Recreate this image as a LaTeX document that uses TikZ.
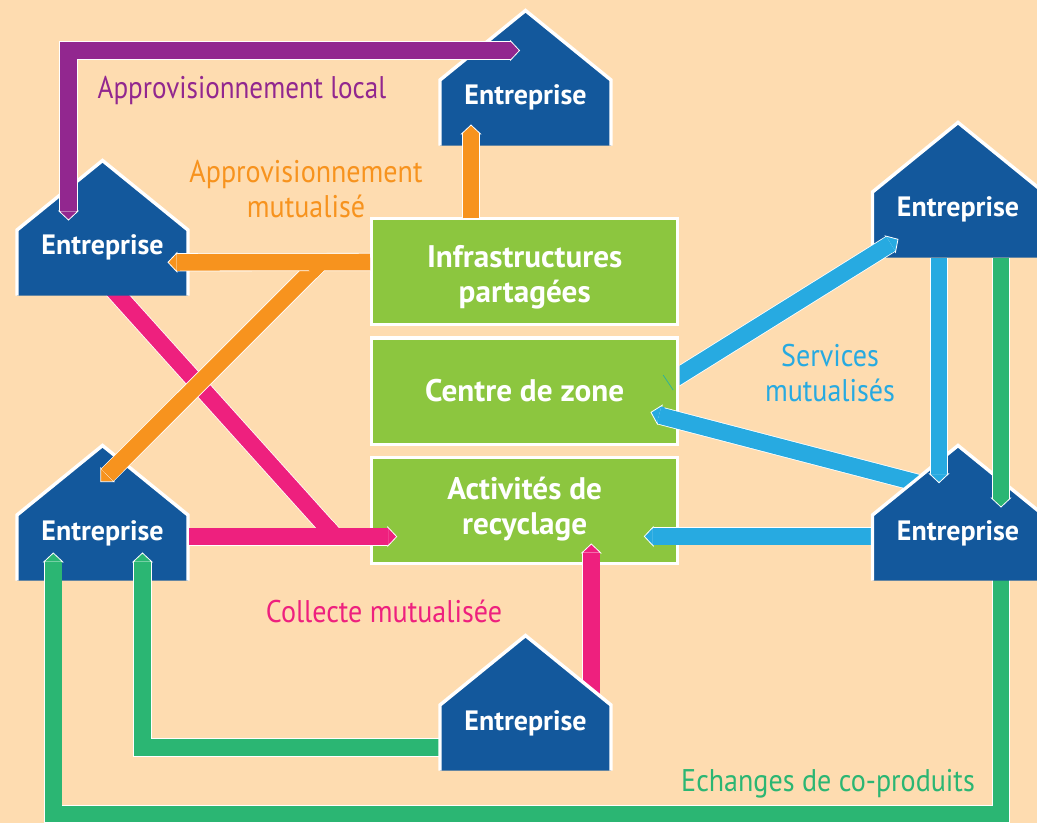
\documentclass[tikz,border=0pt]{standalone}
\usepackage{fontspec}
\setmainfont{PT Sans}
\newfontfamily\labfont[FakeStretch=0.895]{PT Sans}
\newfontfamily\purfont[FakeStretch=0.865]{PT Sans}
\usetikzlibrary{calc,backgrounds}
\definecolor{bgc}{RGB}{254,220,176}
\definecolor{hblue}{RGB}{19,88,156}
\definecolor{bgreen}{RGB}{140,198,63}
\definecolor{corange}{RGB}{247,147,30}
\definecolor{cpink}{RGB}{238,32,126}
\definecolor{cpurple}{RGB}{146,39,143}
\definecolor{csky}{RGB}{39,170,225}
\definecolor{cgreen}{RGB}{43,182,115}
\tikzset{
  zonebox/.style={draw=white,line width=2.6pt,fill=bgreen,text=white,align=center,
    minimum width=229.5pt,inner sep=0pt,font=\fontsize{23.4}{26}\selectfont\bfseries},
  firm/.style={text=white,inner sep=0pt,font=\fontsize{21}{25}\selectfont\bfseries},
  lab/.style={align=center,inner sep=0pt,font=\labfont\fontsize{23.5}{26.25}\selectfont},
  conn/.style={draw=white,line width=0.6pt,double=#1,double distance=12.4pt,line join=miter},
  core/.style={draw=#1,line width=12.4pt}
}
\newcommand{\zonetext}[2]{\smash{\raisebox{#1}{\begin{tabular}{@{}c@{}}#2\end{tabular}}}}
\newcommand{\firmhouse}[3]{%
  \node[firm] (#1) at (#2,#3) {\smash{\raisebox{-7.5pt}{Entreprise}}};
  \begin{pgfonlayer}{houselayer}
  \fill[hblue] ($(#1)+(-85.5,50.7)$) -- ($(#1)+(-85.5,-15)$) -- ($(#1)+(0,-84.5)$) -- ($(#1)+(85.5,-15)$) -- ($(#1)+(85.5,50.7)$) -- cycle;
  \draw[white,line width=2.6pt,line join=miter] ($(#1)+(-85.5,50.7)$) -- ($(#1)+(-85.5,-15)$) -- ($(#1)+(0,-84.5)$) -- ($(#1)+(85.5,-15)$) -- ($(#1)+(85.5,50.7)$);
  \end{pgfonlayer}}
\newcommand{\headtip}[3]{%
  \begin{scope}[shift={#2},rotate=#3]
  \filldraw[draw=white,line width=0.6pt,line join=miter,fill=#1] (-9,-9.6) -- (0,0) -- (-9,9.6) -- cycle;
  \fill[#1] (-12,-8.27) rectangle (-8.5,8.27);
  \end{scope}}
\pgfdeclarelayer{background}
\pgfdeclarelayer{houselayer}
\pgfsetlayers{background,houselayer,main}
\begin{document}
\begin{tikzpicture}[x=0.75pt,y=-0.75pt]
\useasboundingbox (0,0) rectangle (1037,823);
\clip (0,0) rectangle (1037,823);
\begin{pgfonlayer}{background}
\fill[bgc] (0,0) rectangle (1037,823);
\end{pgfonlayer}
% houses
\firmhouse{hT}{525.5}{95}
\firmhouse{hNW}{102.5}{245}
\firmhouse{hSW}{102.5}{530}
\firmhouse{hNE}{958}{207}
\firmhouse{hSE}{958}{530}
\firmhouse{hB}{525.5}{720}
% boxes
\begin{pgfonlayer}{houselayer}
\node[zonebox,minimum height=79.5pt] (bI) at (524.7,271.5) {\zonetext{-11pt}{Infrastructures\\partagées}};
\node[zonebox,minimum height=80pt] (bC) at (524.7,391.1) {\zonetext{-9pt}{Centre de zone}};
\node[zonebox,minimum height=79.5pt] (bA) at (524.7,510.6) {\zonetext{-5.7pt}{Activités de\\recyclage}};
\end{pgfonlayer}
% connectors behind boxes and houses
\begin{pgfonlayer}{background}
\draw[conn=cpink] ($(hNW)+(10,44)$) -- ($(bA)+(-189.5,26)$);
\draw[conn=cpink] ($(hB)+(65.8,-15)$) -- ($(bA)+(66.6,42.4)$);
\draw[conn=csky] ($(hSE)+(-80,6.4)$) -- ($(bA)+(128.8,25.8)$);
\draw[conn=cgreen] ($(hB)+(-80,27.5)$) -| ($(hSW)+(40,32)$);
\draw[conn=cgreen] ($(hSE)+(43,45)$) |- ($(hB)+(-100,94)$) -| ($(hSW)+(-49.2,32)$);
\end{pgfonlayer}
% slanted sky connectors, cut at the edge of the box or house they leave
\begin{scope}
\clip ($(bC)+(154.8,-250)$) rectangle ($(bC)+(420,20)$);
\draw[conn=csky] ($(bC)+(137,-4.4)$) -- ($(hNE)+(-67.6,37)$);
\end{scope}
\headtip{csky}{($(hNE)+(-60,32.3)$)}{32}
\begin{scope}
\clip ($(hSE)+(-125.5,15.5)$) -- ($(hSE)+(0,-86.7)$) -- ($(hSE)+(-100,-200)$) -- ($(bC)+(0,-60)$) -- ($(bC)+(0,100)$) -- cycle;
\draw[conn=csky] ($(hSE)+(-40,-47)$) -- ($(bC)+(135,24.5)$);
\end{scope}
\headtip{csky}{($(bC)+(126.3,21.2)$)}{165.3}
\draw[conn=csky] ($(bA)+(170,25.8)$) -- ($(bA)+(128.6,25.8)$);
\headtip{csky}{($(bA)+(119.6,25.8)$)}{180}
\draw[conn=cpink] ($(bA)+(66.6,70)$) -- ($(bA)+(66.6,42.4)$);
\headtip{cpink}{($(bA)+(66.6,33.4)$)}{90}
\draw[conn=cgreen] ($(hSW)+(-49.2,70)$) -- ($(hSW)+(-49.2,32)$);
\headtip{cgreen}{($(hSW)+(-49.2,23)$)}{90}
\draw[conn=cgreen] ($(hSW)+(40,70)$) -- ($(hSW)+(40,32)$);
\headtip{cgreen}{($(hSW)+(40,23)$)}{90}
% connectors over the houses
\draw[conn=cpurple] ($(hNW)+(-34,-34)$) |- ($(hT)+(-15,-44.5)$);
\headtip{cpurple}{($(hNW)+(-34,-25)$)}{-90}
\headtip{cpurple}{($(hT)+(-6,-44.5)$)}{0}
\draw[conn=corange] ($(bI)+(-53.7,-53)$) -- ($(hT)+(-54.5,39)$);
\headtip{corange}{($(hT)+(-54.5,30)$)}{90}
\draw[conn=corange] ($(bI)+(-204.2,-9.5)$) -- ($(hSW)+(4.9,-55)$);
\filldraw[draw=white,line width=0.6pt,fill=corange] ($(hSW)+(-1.8,-62)$) -- ($(hSW)+(-1.8,-48.3)$) -- ($(hSW)+(11.5,-48.3)$) -- cycle;
\draw[core=corange] ($(hSW)+(15,-65)$) -- ($(hSW)+(4.9,-55)$);
\draw[conn=corange] ($(bI)+(-154.7,-9.5)$) -- ($(hNW)+(74.5,17.3)$);
\headtip{corange}{($(hNW)+(65.5,17.3)$)}{180}
\draw[core=corange] ($(bI)+(-214,0.5)$) -- ($(bI)+(-204.2,-9.5)$);
\draw[conn=cpink] ($(hSW)+(86.5,6.6)$) -- ($(bA)+(-137,26)$);
\headtip{cpink}{($(bA)+(-128,26)$)}{0}
\draw[core=cpink] ($(bA)+(-198.5,16)$) -- ($(bA)+(-189.5,26)$);
\draw[conn=csky] ($(hNE)+(-19,50.7)$) -- ($(hSE)+(-19,-56.3)$);
\headtip{csky}{($(hSE)+(-19,-47.3)$)}{-90}
\draw[conn=cgreen] ($(hNE)+(43,50.7)$) -- ($(hSE)+(43,-32)$);
\headtip{cgreen}{($(hSE)+(43,-23)$)}{-90}
\draw[draw=cgreen!60!csky,line width=0.5pt] ($(bC)+(138.5,-16)$) -- ($(bC)+(148.5,-1)$);
% labels
\node[lab,text=cpurple,font=\purfont\fontsize{23.5}{26.25}\selectfont] (lLocal) at (242,90) {Approvisionnement local};
\node[lab,text=corange] (lMut) at (306,189) {Approvisionnement\\mutualisé};
\node[lab,text=csky] (lServ) at (830,373.5) {Services\\mutualisés};
\node[lab,text=cpink] (lColl) at (384,611) {Collecte mutualisée};
\node[lab,text=cgreen] (lEch) at (828,784) {Echanges de co-produits};
\end{tikzpicture}
\end{document}
